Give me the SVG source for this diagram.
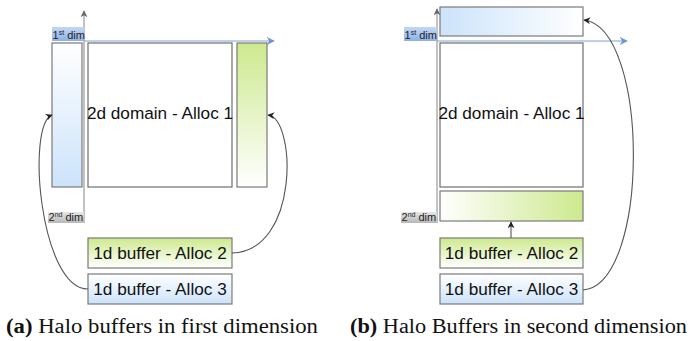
<svg xmlns="http://www.w3.org/2000/svg" width="690" height="341" viewBox="0 0 690 341">
  <style>
    .box { stroke: #7a7a7a; stroke-width: 1.2; }
    .domain { fill: #ffffff; stroke: #6e6e6e; stroke-width: 1.2; }
    .lbl { font-family: "Liberation Sans", Arial, sans-serif; font-size: 17.2px; fill: #111; text-anchor: middle; }
    .dim { font-family: "Liberation Sans", Arial, sans-serif; font-size: 11px; fill: #222; }
    .sup { font-size: 7px; }
    .vaxis { stroke: #999; stroke-width: 1.2; fill: none; }
    .haxis { stroke: #7fa3d6; stroke-width: 1.2; fill: none; }
    .conn { stroke: #555; stroke-width: 1.1; fill: none; }
    .cap { font-family: "Liberation Serif", "Times New Roman", serif; font-size: 20px; fill: #111; }
  </style>
  <defs>
    <linearGradient id="blueDown" x1="0" y1="0" x2="0" y2="1">
      <stop offset="0" stop-color="#ffffff"/>
      <stop offset="1" stop-color="#cce3fb"/>
    </linearGradient>
    <linearGradient id="greenUp" x1="0" y1="0" x2="0" y2="1">
      <stop offset="0" stop-color="#cde98e"/>
      <stop offset="1" stop-color="#ffffff"/>
    </linearGradient>
    <linearGradient id="blueRight" x1="0" y1="0" x2="1" y2="0">
      <stop offset="0" stop-color="#cce3fb"/>
      <stop offset="1" stop-color="#ffffff"/>
    </linearGradient>
    <linearGradient id="greenRight" x1="0" y1="0" x2="1" y2="0">
      <stop offset="0" stop-color="#ffffff"/>
      <stop offset="1" stop-color="#cde98e"/>
    </linearGradient>
    <linearGradient id="dimBlue" x1="0" y1="0" x2="0" y2="1">
      <stop offset="0" stop-color="#c3d8f5"/>
      <stop offset="1" stop-color="#8eb1e6"/>
    </linearGradient>
    <linearGradient id="dimGrey" x1="0" y1="0" x2="0" y2="1">
      <stop offset="0" stop-color="#e6e6e6"/>
      <stop offset="1" stop-color="#b8b8b8"/>
    </linearGradient>
    <marker id="arrGrey" viewBox="0 0 10 10" refX="9" refY="5" markerWidth="7" markerHeight="7" markerUnits="userSpaceOnUse" orient="auto">
      <path d="M0,0 L10,5 L0,10 L3,5 Z" fill="#666"/>
    </marker>
    <marker id="arrBlue" viewBox="0 0 10 10" refX="9" refY="5" markerWidth="8" markerHeight="8" markerUnits="userSpaceOnUse" orient="auto">
      <path d="M0,0 L10,5 L0,10 L3,5 Z" fill="#6f95cf"/>
    </marker>
    <marker id="arrDark" viewBox="0 0 10 10" refX="9" refY="5" markerWidth="7" markerHeight="7" markerUnits="userSpaceOnUse" orient="auto">
      <path d="M0,0 L10,5 L0,10 L3,5 Z" fill="#222"/>
    </marker>
  </defs>

  <!-- ===== (a) halo buffers in first dimension ===== -->
  <g id="a-axes">
    <path class="vaxis" d="M84,223 L84,11" marker-end="url(#arrGrey)"/>
    <path class="haxis" d="M84,41 L274,41" marker-end="url(#arrBlue)"/>
  </g>
  <g id="a-dim1">
    <rect x="52" y="27" width="32" height="14" fill="url(#dimBlue)"/>
    <text class="dim" x="52.5" y="38.5">1<tspan class="sup" dy="-4">st</tspan><tspan dy="4"> dim</tspan></text>
  </g>
  <g id="a-dim2">
    <rect x="48" y="212" width="36" height="11" fill="url(#dimGrey)"/>
    <text class="dim" x="48.5" y="221">2<tspan class="sup" dy="-4">nd</tspan><tspan dy="4"> dim</tspan></text>
  </g>
  <g id="a-halo-left">
    <rect class="box" x="52" y="43" width="30" height="144" fill="url(#blueDown)"/>
  </g>
  <g id="a-domain">
    <rect class="domain" x="88" y="43" width="144" height="144"/>
    <text class="lbl" x="160" y="119">2d domain - Alloc 1</text>
  </g>
  <g id="a-halo-right">
    <rect class="box" x="237" y="43" width="30" height="144" fill="url(#greenUp)"/>
  </g>
  <g id="a-alloc2">
    <rect class="box" x="88" y="238" width="144" height="30" fill="url(#greenUp)"/>
    <text class="lbl" x="160" y="259">1d buffer - Alloc 2</text>
  </g>
  <g id="a-alloc3">
    <rect class="box" x="88" y="274" width="144" height="30" fill="url(#blueDown)"/>
    <text class="lbl" x="160" y="295">1d buffer - Alloc 3</text>
  </g>

  <!-- ===== (b) halo buffers in second dimension ===== -->
  <g id="b-axes">
    <path class="vaxis" d="M437,223 L437,9" marker-end="url(#arrGrey)"/>
    <path class="haxis" d="M437,41 L627,41" marker-end="url(#arrBlue)"/>
  </g>
  <g id="b-dim1">
    <rect x="404" y="27" width="33" height="14" fill="url(#dimBlue)"/>
    <text class="dim" x="404.5" y="38.5">1<tspan class="sup" dy="-4">st</tspan><tspan dy="4"> dim</tspan></text>
  </g>
  <g id="b-dim2">
    <rect x="401" y="212" width="36" height="11" fill="url(#dimGrey)"/>
    <text class="dim" x="401.5" y="221">2<tspan class="sup" dy="-4">nd</tspan><tspan dy="4"> dim</tspan></text>
  </g>
  <g id="b-halo-top">
    <rect class="box" x="440" y="7" width="143" height="29" fill="url(#blueRight)"/>
  </g>
  <g id="b-domain">
    <rect class="domain" x="440" y="43" width="143" height="144"/>
    <text class="lbl" x="511.5" y="119">2d domain - Alloc 1</text>
  </g>
  <g id="b-halo-bottom">
    <rect class="box" x="440" y="191" width="143" height="30" fill="url(#greenRight)"/>
  </g>
  <g id="b-alloc2">
    <rect class="box" x="440" y="238" width="143" height="30" fill="url(#greenUp)"/>
    <text class="lbl" x="511.5" y="259">1d buffer - Alloc 2</text>
  </g>
  <g id="b-alloc3">
    <rect class="box" x="440" y="274" width="143" height="30" fill="url(#blueDown)"/>
    <text class="lbl" x="511.5" y="295">1d buffer - Alloc 3</text>
  </g>

  <!-- connectors -->
  <g id="connectors">
    <path class="conn" d="M88,289 C40,289 26,125 52,115" marker-end="url(#arrDark)"/>
    <path class="conn" d="M232,253 C300,251 296,118 268,115" marker-end="url(#arrDark)"/>
    <path class="conn" d="M511,238 L511,222" marker-end="url(#arrDark)"/>
    <path class="conn" d="M583,290 C650,285 650,28 584,20" marker-end="url(#arrDark)"/>
  </g>

  <!-- sub-figure captions -->
  <g id="captions">
    <text class="cap" x="6" y="333" textLength="312" lengthAdjust="spacingAndGlyphs"><tspan font-weight="bold">(a)</tspan> Halo buffers in first dimension</text>
    <text class="cap" x="350" y="333" textLength="337" lengthAdjust="spacingAndGlyphs"><tspan font-weight="bold">(b)</tspan> Halo Buffers in second dimension</text>
  </g>
</svg>
